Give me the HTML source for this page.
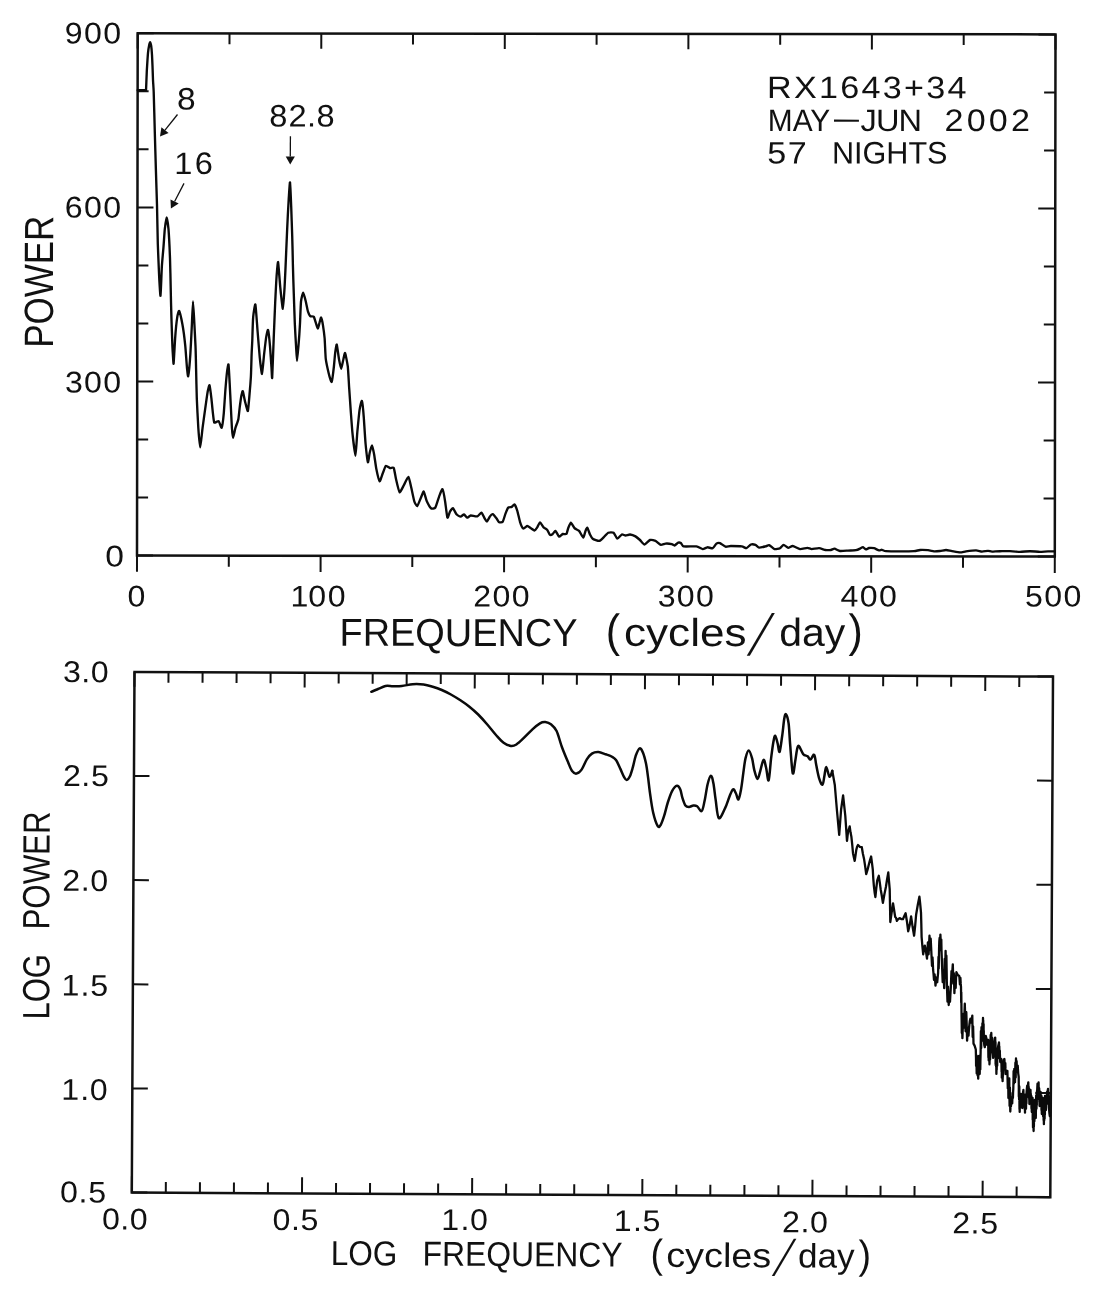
<!DOCTYPE html>
<html><head><meta charset="utf-8"><title>RX1643+34 power spectrum</title>
<style>html,body{margin:0;padding:0;background:#fff}svg{display:block}text{font-family:"Liberation Sans",sans-serif;fill:#111}</style></head><body>
<svg width="1100" height="1294" viewBox="0 0 1100 1294">
<rect width="1100" height="1294" fill="#fff"/>
<g transform="matrix(1 0.00120 -0.00134 1 137.7 33.3)" stroke="#111" fill="none" stroke-linecap="butt">
<rect x="0" y="0" width="917.8" height="522.2" stroke-width="2.5"/>
<path d="M0.0 0v15.3M0.0 522.2v16.3M91.8 0v10.8M91.8 522.2v11.2M183.6 0v15.3M183.6 522.2v16.3M275.3 0v10.8M275.3 522.2v11.2M367.1 0v15.3M367.1 522.2v16.3M458.9 0v10.8M458.9 522.2v11.2M550.7 0v15.3M550.7 522.2v16.3M642.5 0v10.8M642.5 522.2v11.2M734.2 0v15.3M734.2 522.2v16.3M826.0 0v10.8M826.0 522.2v11.2M917.8 0v15.3M917.8 522.2v16.3M0 522.2h16M917.8 522.2h-17M0 464.2h11M917.8 464.2h-11.3M0 406.2h11M917.8 406.2h-11.3M0 348.1h16M917.8 348.1h-17M0 290.1h11M917.8 290.1h-11.3M0 232.1h11M917.8 232.1h-11.3M0 174.1h16M917.8 174.1h-17M0 116.0h11M917.8 116.0h-11.3M0 58.0h11M917.8 58.0h-11.3M0 0.0h16M917.8 0.0h-17" stroke-width="2.0"/>
</g>
<g transform="matrix(1 0.00512 -0.00519 1 134.5 671.9)" stroke="#111" fill="none">
<rect x="0" y="0" width="918.5" height="520.6" stroke-width="2.5"/>
<path d="M0.0 0v14.8M0.0 520.6v-16.2M34.0 0v10.6M34.0 520.6v-10.6M68.1 0v10.6M68.1 520.6v-10.6M102.1 0v10.6M102.1 520.6v-10.6M136.1 0v10.6M136.1 520.6v-10.6M170.2 0v14.8M170.2 520.6v-16.2M204.2 0v10.6M204.2 520.6v-10.6M238.2 0v10.6M238.2 520.6v-10.6M272.2 0v10.6M272.2 520.6v-10.6M306.3 0v10.6M306.3 520.6v-10.6M340.3 0v14.8M340.3 520.6v-16.2M374.3 0v10.6M374.3 520.6v-10.6M408.4 0v10.6M408.4 520.6v-10.6M442.4 0v10.6M442.4 520.6v-10.6M476.4 0v10.6M476.4 520.6v-10.6M510.5 0v14.8M510.5 520.6v-16.2M544.5 0v10.6M544.5 520.6v-10.6M578.5 0v10.6M578.5 520.6v-10.6M612.6 0v10.6M612.6 520.6v-10.6M646.6 0v10.6M646.6 520.6v-10.6M680.6 0v14.8M680.6 520.6v-16.2M714.7 0v10.6M714.7 520.6v-10.6M748.7 0v10.6M748.7 520.6v-10.6M782.7 0v10.6M782.7 520.6v-10.6M816.7 0v10.6M816.7 520.6v-10.6M850.8 0v14.8M850.8 520.6v-16.2M884.8 0v10.6M884.8 520.6v-10.6M0 0.0h15.5M918.5 0.0h-15.5M0 104.1h15.5M918.5 104.1h-15.5M0 208.2h15.5M918.5 208.2h-15.5M0 312.4h15.5M918.5 312.4h-15.5M0 416.5h15.5M918.5 416.5h-15.5M0 520.6h15.5M918.5 520.6h-15.5" stroke-width="2.0"/>
</g>
<path d="M137.7 90.2C138.5 90.2 145.1 90.4 145.9 90.2C146.1 90.0 146.0 90.4 146.1 88.5C146.2 86.6 146.7 72.7 146.9 69.4C147.1 66.1 147.8 55.1 148.0 52.9C148.2 50.7 149.0 46.0 149.2 45.0C149.4 44.0 150.0 42.1 150.2 42.2C150.4 42.3 151.0 44.8 151.2 46.0C151.4 47.2 151.9 53.2 152.0 55.0C152.1 56.8 152.4 63.7 152.5 66.0C152.6 68.3 152.9 77.6 153.0 80.0C153.1 82.4 153.5 87.2 153.7 92.0C153.9 96.8 154.6 125.2 154.8 132.3C155.0 139.5 155.7 163.3 155.9 170.0C156.1 176.7 156.8 198.5 157.0 205.3C157.2 212.1 157.6 237.6 157.8 243.8C158.0 250.0 158.8 268.3 159.0 273.1C159.2 277.9 160.2 296.4 160.5 295.7C160.8 295.0 161.6 270.2 161.9 265.8C162.2 261.4 163.1 251.6 163.4 248.2C163.7 244.8 164.5 232.0 164.8 229.2C165.1 226.4 166.3 217.5 166.6 217.5C166.9 217.5 168.2 225.5 168.5 229.2C168.8 232.9 169.8 253.0 170.0 258.4C170.2 263.8 170.6 282.3 170.7 287.7C170.8 293.1 171.2 311.5 171.4 316.9C171.6 322.3 172.2 341.8 172.4 346.1C172.6 350.4 173.4 364.4 173.6 363.7C173.8 363.0 174.8 343.1 175.1 338.8C175.4 334.5 176.9 319.4 177.3 316.9C177.7 314.4 178.7 310.3 179.2 311.0C179.7 311.7 181.8 321.0 182.4 324.2C183.0 327.4 184.9 342.1 185.3 346.1C185.7 350.1 186.7 365.2 187.0 368.0C187.3 370.8 187.9 377.4 188.2 376.1C188.5 374.8 190.1 358.2 190.4 353.4C190.7 348.6 191.7 329.0 191.9 324.2C192.1 319.4 192.8 301.5 193.0 301.5C193.2 301.5 194.2 320.1 194.4 324.2C194.6 328.3 195.3 342.0 195.5 346.1C195.7 350.2 196.0 364.4 196.1 369.2C196.2 374.0 196.6 393.0 196.8 398.4C197.0 403.8 198.0 423.2 198.3 427.7C198.6 432.2 199.8 447.4 200.2 447.4C200.6 447.4 202.1 431.5 202.6 427.7C203.1 423.9 205.1 409.2 205.6 405.8C206.1 402.4 207.4 393.0 207.8 391.1C208.2 389.2 209.2 384.6 209.5 385.3C209.8 386.0 211.1 395.9 211.4 398.4C211.7 400.9 212.6 410.9 212.9 413.1C213.2 415.3 213.8 421.9 214.3 422.6C214.8 423.3 218.0 420.6 218.7 421.1C219.4 421.6 221.1 428.4 221.6 427.7C222.1 427.0 223.5 416.5 223.8 413.1C224.1 409.7 225.0 394.9 225.3 391.1C225.6 387.3 226.7 374.5 227.0 372.1C227.3 369.7 228.3 363.4 228.5 364.5C228.7 365.6 229.5 380.0 229.7 383.8C229.9 387.6 230.6 401.8 230.8 405.8C231.0 409.8 231.7 424.8 231.9 427.7C232.1 430.6 232.7 437.9 233.0 437.9C233.3 437.9 235.0 429.4 235.5 427.7C236.0 426.0 238.0 420.9 238.4 418.9C238.8 416.9 239.6 407.9 239.9 405.8C240.2 403.7 241.1 396.8 241.4 395.5C241.7 394.2 242.5 390.6 242.8 391.1C243.1 391.6 244.5 399.6 245.0 401.4C245.5 403.2 247.5 411.8 247.9 410.9C248.3 410.0 249.5 394.3 249.8 391.1C250.1 387.9 250.7 379.8 250.9 376.5C251.1 373.2 251.5 357.9 251.6 354.6C251.7 351.3 252.2 343.5 252.3 340.0C252.4 336.5 252.9 320.2 253.2 316.9C253.5 313.6 255.0 303.2 255.4 304.5C255.8 305.8 257.2 326.6 257.6 331.5C258.0 336.4 259.4 353.9 259.8 357.8C260.2 361.7 261.6 374.3 262.0 373.9C262.4 373.5 263.8 356.9 264.2 353.4C264.6 349.9 266.0 338.0 266.4 335.9C266.8 333.8 267.8 329.1 268.1 330.0C268.4 330.9 269.7 342.6 270.0 346.1C270.3 349.6 271.3 365.1 271.5 368.0C271.7 370.9 272.0 380.2 272.2 377.5C272.4 374.8 273.4 345.7 273.7 338.8C274.0 331.9 274.9 308.1 275.2 302.3C275.5 296.5 276.3 279.7 276.6 276.0C276.9 272.3 277.8 261.0 278.1 262.1C278.4 263.2 279.9 283.4 280.3 287.7C280.7 292.0 282.5 309.0 282.9 308.9C283.3 308.8 284.3 291.9 284.6 286.9C284.9 281.9 285.9 259.4 286.1 254.0C286.3 248.6 287.0 233.4 287.2 228.4C287.4 223.4 288.4 203.4 288.7 199.2C289.0 195.0 289.8 181.7 290.0 182.4C290.2 183.1 291.0 201.6 291.2 206.5C291.4 211.4 292.0 230.4 292.2 235.8C292.4 241.2 292.8 259.6 292.9 265.0C293.0 270.4 293.6 288.8 293.8 294.2C294.0 299.6 294.6 318.7 294.8 323.4C295.0 328.1 295.8 341.9 296.0 345.3C296.2 348.7 296.8 361.0 297.0 361.0C297.2 361.0 298.2 348.7 298.5 345.3C298.8 341.9 299.8 327.4 300.0 323.4C300.2 319.4 300.7 304.3 301.0 301.5C301.3 298.7 302.8 292.7 303.2 292.7C303.6 292.7 305.4 299.8 305.8 301.5C306.2 303.2 307.6 310.4 308.0 311.7C308.4 313.0 309.7 315.6 310.2 316.1C310.7 316.6 313.3 316.1 313.8 316.8C314.3 317.5 315.6 322.3 316.0 323.4C316.4 324.5 317.6 328.6 317.9 328.5C318.2 328.4 319.4 323.0 319.7 322.0C320.0 321.0 320.8 317.3 321.1 317.6C321.4 317.9 322.6 323.0 322.9 324.9C323.2 326.8 324.3 334.9 324.6 338.0C324.9 341.1 325.4 355.9 325.8 359.2C326.2 362.5 328.3 371.7 328.8 373.8C329.3 375.9 331.2 382.6 331.7 381.9C332.2 381.2 333.6 369.2 333.9 366.5C334.2 363.8 335.0 353.9 335.3 351.9C335.6 349.9 336.5 343.9 336.8 344.6C337.1 345.3 338.6 357.0 339.0 359.2C339.4 361.4 340.8 368.7 341.2 368.7C341.6 368.7 343.0 360.6 343.4 359.2C343.8 357.8 344.7 352.4 345.1 353.1C345.5 353.8 347.4 363.3 347.8 366.5C348.2 369.7 348.9 384.4 349.2 388.4C349.5 392.4 350.4 406.4 350.7 410.4C351.0 414.4 352.0 428.1 352.4 432.3C352.8 436.5 355.1 455.7 355.5 455.7C355.9 455.7 356.9 436.5 357.3 432.3C357.7 428.1 359.1 413.3 359.5 410.4C359.9 407.5 361.5 400.2 361.9 400.9C362.3 401.6 363.5 413.7 363.8 417.7C364.1 421.7 365.2 439.9 365.6 444.0C366.0 448.1 367.5 461.4 367.9 462.2C368.3 463.0 369.3 454.2 369.7 452.7C370.1 451.2 371.5 445.3 371.9 445.4C372.3 445.5 373.7 452.1 374.1 454.2C374.5 456.3 375.8 466.3 376.3 468.8C376.8 471.3 379.0 480.8 379.6 481.2C380.2 481.6 382.2 474.6 382.8 473.2C383.4 471.8 385.1 466.4 385.8 465.9C386.5 465.4 389.4 467.9 390.1 468.1C390.8 468.3 393.3 467.1 393.8 468.1C394.3 469.1 395.5 476.8 396.0 479.0C396.5 481.2 398.9 491.7 399.6 492.2C400.3 492.7 403.2 486.3 404.0 484.9C404.8 483.5 407.7 476.5 408.4 476.8C409.1 477.1 410.8 485.6 411.3 487.8C411.8 490.0 413.7 499.3 414.2 501.0C414.7 502.7 416.6 506.4 417.2 506.1C417.8 505.8 420.2 499.3 420.8 498.0C421.4 496.7 423.2 491.2 423.7 491.5C424.2 491.8 426.0 499.5 426.7 501.0C427.4 502.5 430.2 507.7 431.0 508.3C431.8 508.9 434.7 508.6 435.4 507.5C436.1 506.4 438.4 498.3 439.1 496.6C439.8 494.9 441.9 488.7 442.5 489.2C443.1 489.7 444.8 499.4 445.2 502.0C445.6 504.6 447.0 516.7 447.4 517.6C447.8 518.5 449.5 512.5 450.0 511.6C450.5 510.7 452.3 508.0 452.9 508.2C453.5 508.4 455.8 513.5 456.5 514.3C457.2 515.1 459.9 516.6 460.6 516.6C461.3 516.6 463.4 514.3 464.0 514.4C464.6 514.5 466.5 517.6 467.1 517.7C467.7 517.8 469.8 515.6 470.7 515.5C471.6 515.4 476.3 516.7 477.3 516.4C478.3 516.1 480.8 512.5 481.5 512.7C482.2 512.9 484.0 517.4 484.5 518.2C485.0 519.0 486.4 521.7 486.9 521.5C487.4 521.3 489.5 517.1 490.0 516.4C490.5 515.7 492.1 514.0 492.7 514.2C493.3 514.4 495.8 517.5 496.4 518.2C497.0 518.9 498.5 521.9 499.1 522.2C499.7 522.5 502.1 522.6 502.7 521.8C503.3 521.0 505.0 514.9 505.5 513.6C506.0 512.3 507.6 508.2 508.2 507.6C508.8 507.0 511.2 507.2 511.8 506.9C512.4 506.6 514.0 504.1 514.5 504.5C515.0 504.9 516.8 509.3 517.3 510.9C517.8 512.5 519.5 520.2 520.0 521.8C520.5 523.4 522.6 528.1 523.3 528.5C524.0 528.9 526.6 526.0 527.3 526.0C528.0 526.0 530.2 527.8 530.9 528.2C531.6 528.6 533.9 530.6 534.5 530.5C535.1 530.4 536.8 528.0 537.3 527.3C537.8 526.6 539.4 522.4 540.0 522.4C540.6 522.4 542.9 526.6 543.6 527.3C544.3 528.0 546.7 529.3 547.3 530.0C547.9 530.7 549.5 534.5 550.0 534.9C550.5 535.3 552.2 534.4 552.7 534.0C553.2 533.6 554.9 530.7 555.5 530.9C556.1 531.1 558.4 536.4 559.1 536.7C559.8 537.0 562.0 534.2 562.7 534.0C563.4 533.8 565.9 534.5 566.4 534.0C566.9 533.5 567.8 529.2 568.2 528.2C568.6 527.2 570.3 522.7 570.9 522.7C571.5 522.7 573.7 527.4 574.5 528.2C575.3 529.0 578.3 530.0 579.1 530.9C579.9 531.8 582.7 537.6 583.3 537.6C583.9 537.6 585.1 531.8 585.5 530.9C585.9 530.0 586.9 527.5 587.3 527.8C587.7 528.1 589.5 533.5 590.0 534.5C590.5 535.5 591.9 538.1 592.7 538.7C593.5 539.3 598.1 541.0 599.1 540.9C600.1 540.8 602.8 538.1 603.6 537.3C604.4 536.5 607.3 533.1 608.2 532.7C609.1 532.3 612.8 532.2 613.6 532.7C614.4 533.2 616.5 538.5 617.3 538.7C618.1 538.9 621.0 534.8 621.8 534.5C622.6 534.2 624.7 535.5 625.5 535.5C626.3 535.5 629.1 534.4 630.0 534.5C630.9 534.6 634.6 535.9 635.5 536.4C636.4 536.9 639.2 539.3 640.0 540.0C640.8 540.7 643.6 544.5 644.5 544.5C645.4 544.5 649.0 540.3 650.0 540.0C651.0 539.7 654.5 540.5 655.5 540.9C656.5 541.3 660.0 544.7 660.9 544.9C661.8 545.1 664.5 543.7 665.5 543.6C666.5 543.5 671.0 544.0 671.8 544.2C672.6 544.4 673.9 545.6 674.5 545.5C675.1 545.4 677.6 542.9 678.2 542.7C678.8 542.5 680.4 542.8 680.9 543.1C681.4 543.4 682.2 546.1 683.6 546.4C685.0 546.7 694.6 546.2 696.4 546.4C698.2 546.6 701.7 549.0 702.7 549.1C703.7 549.2 706.4 547.4 707.3 547.3C708.2 547.2 711.9 548.5 712.7 548.2C713.5 547.9 715.7 544.1 716.4 543.6C717.1 543.1 719.2 542.8 720.0 543.1C720.8 543.4 724.5 546.4 725.5 546.7C726.5 547.0 729.4 546.0 730.9 546.0C732.4 546.0 740.4 546.2 741.8 546.4C743.2 546.6 745.6 548.4 746.4 548.2C747.2 548.0 750.1 544.8 750.9 544.5C751.7 544.2 754.7 544.6 755.5 544.9C756.3 545.2 758.2 547.5 759.1 547.6C760.0 547.7 764.6 546.6 765.5 546.4C766.4 546.2 768.3 544.9 769.1 545.1C769.9 545.3 773.5 548.8 774.5 549.1C775.5 549.4 779.2 548.6 780.0 548.2C780.8 547.8 782.8 544.9 783.6 544.9C784.4 544.9 787.4 547.7 788.2 547.8C789.0 547.9 791.6 545.9 792.7 546.0C793.8 546.1 798.7 548.9 800.0 549.1C801.3 549.3 806.2 547.8 807.3 547.8C808.4 547.8 810.7 549.1 811.8 549.1C812.9 549.1 817.8 548.1 819.1 548.2C820.4 548.3 824.4 549.8 825.5 550.0C826.6 550.2 830.1 550.1 830.9 550.0C831.7 549.9 833.7 548.6 834.5 548.7C835.3 548.8 838.8 550.8 840.0 551.0C841.2 551.2 846.5 550.7 848.0 550.6C849.5 550.5 854.9 550.4 856.0 550.2C857.1 550.0 859.4 548.9 860.0 548.6C860.6 548.3 862.5 547.1 863.0 547.2C863.5 547.3 865.5 549.3 866.0 549.4C866.5 549.5 868.3 548.1 869.0 548.0C869.7 547.9 873.1 548.0 874.0 548.2C874.9 548.4 878.3 550.3 879.0 550.4C879.7 550.5 881.4 549.7 882.0 549.8C882.6 549.9 884.4 551.1 886.0 551.2C887.6 551.3 897.4 551.4 900.0 551.4C902.6 551.4 912.2 551.3 914.0 551.2C915.8 551.1 918.7 550.1 920.0 550.0C921.3 549.9 926.7 550.1 928.0 550.2C929.3 550.3 932.9 551.2 934.0 551.3C935.1 551.4 938.9 551.1 940.0 551.0C941.1 550.9 944.9 550.0 946.0 550.0C947.1 550.0 950.7 551.0 952.0 551.2C953.3 551.4 958.7 552.4 960.0 552.4C961.3 552.4 964.5 551.6 966.0 551.4C967.5 551.2 974.5 550.4 976.0 550.4C977.5 550.4 980.9 551.6 982.0 551.6C983.1 551.6 987.1 550.8 988.0 550.8C988.9 550.8 990.9 551.6 992.0 551.6C993.1 551.6 998.4 551.2 1000.0 551.2C1001.6 551.2 1008.2 551.1 1010.0 551.2C1011.8 551.3 1018.2 551.8 1020.0 551.8C1021.8 551.8 1028.2 551.2 1030.0 551.2C1031.8 551.2 1038.3 551.8 1040.0 551.8C1041.7 551.8 1046.7 551.4 1048.0 551.4C1049.3 551.4 1054.0 551.4 1054.6 551.4" fill="none" stroke="#0a0a0a" stroke-linejoin="round" stroke-linecap="round" stroke-width="2.35"/>
<path d="M371.3 691.8C372.4 691.3 375.6 690.0 378.0 689.0C380.4 688.0 383.0 686.5 385.5 686.0C388.0 685.5 390.3 686.2 393.0 686.2C395.7 686.2 398.5 686.3 401.8 686.0C405.1 685.7 409.1 684.5 412.7 684.2C416.3 684.0 420.3 684.1 423.6 684.5C426.9 684.9 429.7 685.8 432.7 686.7C435.7 687.6 438.8 688.7 441.8 690.0C444.8 691.3 447.9 692.8 450.9 694.5C453.9 696.2 457.0 698.0 460.0 700.0C463.0 702.0 466.1 704.0 469.1 706.4C472.1 708.8 475.2 711.5 478.2 714.5C481.2 717.5 484.3 721.0 487.3 724.5C490.3 728.0 493.7 732.5 496.4 735.5C499.1 738.5 501.2 741.0 503.6 742.7C506.0 744.5 508.8 745.7 510.9 746.0C513.0 746.3 514.3 745.8 516.4 744.5C518.5 743.2 520.9 740.8 523.6 738.2C526.3 735.6 530.0 731.6 532.7 729.1C535.4 726.6 537.9 724.5 540.0 723.3C542.1 722.1 543.4 721.9 545.3 722.1C547.2 722.3 549.4 723.1 551.3 724.6C553.2 726.1 554.8 727.3 556.6 731.0C558.4 734.7 560.0 741.9 561.9 747.0C563.8 752.1 566.1 757.6 567.8 761.6C569.5 765.6 570.6 769.1 572.1 771.1C573.6 773.1 574.9 773.9 576.5 773.6C578.1 773.4 579.9 772.0 581.6 769.6C583.3 767.2 585.1 762.1 586.8 759.4C588.5 756.7 590.0 754.8 591.9 753.6C593.8 752.4 596.1 752.0 598.4 752.1C600.7 752.2 603.6 753.6 605.8 754.3C608.0 755.0 609.9 755.5 611.6 756.5C613.3 757.5 614.5 758.0 616.0 760.1C617.5 762.2 619.1 766.1 620.4 768.9C621.7 771.7 623.0 775.1 624.0 776.9C625.0 778.7 625.6 780.0 626.6 779.9C627.6 779.8 628.9 778.3 629.9 776.2C630.9 774.1 631.8 770.8 632.8 767.4C633.8 764.0 634.6 759.0 635.7 755.8C636.9 752.6 638.5 748.9 639.7 748.4C640.9 747.9 642.0 750.3 643.0 752.8C644.0 755.2 645.0 759.0 645.9 763.1C646.8 767.2 647.4 772.4 648.1 777.7C648.8 783.1 649.4 789.4 650.3 795.2C651.1 801.0 652.0 807.6 653.2 812.7C654.4 817.8 656.4 823.8 657.6 825.9C658.8 828.0 659.4 826.9 660.5 825.2C661.6 823.5 663.0 819.5 664.2 815.7C665.4 811.9 666.5 806.6 667.8 802.5C669.1 798.4 670.7 793.6 672.2 790.8C673.7 788.0 675.5 785.9 676.9 785.7C678.2 785.5 679.4 787.3 680.3 789.4C681.2 791.5 681.6 795.4 682.5 798.1C683.4 800.8 684.3 803.9 685.4 805.4C686.5 806.9 687.7 806.9 689.0 806.9C690.3 806.9 692.0 805.7 693.4 805.6C694.8 805.5 695.7 805.4 697.1 806.3C698.5 807.2 700.5 811.9 701.7 811.0C703.0 810.1 703.6 805.2 704.6 800.8C705.6 796.4 706.5 788.9 707.5 784.7C708.5 780.5 709.9 775.9 710.9 775.7C711.9 775.5 712.6 779.3 713.4 783.3C714.2 787.2 714.7 793.6 715.6 799.4C716.5 805.2 717.2 816.6 718.8 818.1C720.4 819.6 723.3 811.7 725.1 808.1C726.9 804.5 728.2 799.5 729.5 796.4C730.8 793.3 732.0 789.9 733.1 789.4C734.2 788.9 735.1 791.8 736.0 793.5C736.9 795.2 737.6 800.1 738.5 799.4C739.4 798.7 740.3 793.5 741.1 789.1C741.9 784.7 742.6 778.2 743.3 773.1C744.0 768.0 744.6 762.2 745.5 758.4C746.4 754.6 747.6 750.4 748.7 750.4C749.8 750.4 751.2 755.1 752.1 758.4C753.0 761.7 753.4 766.7 754.3 770.1C755.2 773.5 756.5 778.6 757.5 778.9C758.5 779.1 759.1 774.8 760.1 771.6C761.1 768.4 762.5 760.6 763.5 759.9C764.5 759.2 765.1 763.8 766.0 767.2C766.9 770.6 767.8 781.9 768.6 780.4C769.5 778.9 770.3 764.7 771.1 758.4C771.9 752.1 772.6 746.2 773.3 742.4C774.0 738.6 774.5 735.6 775.2 735.8C775.9 736.0 777.0 741.1 777.7 743.8C778.4 746.5 778.9 753.1 779.6 751.9C780.3 750.7 781.3 742.0 782.1 736.5C782.9 731.0 783.6 722.7 784.2 719.0C784.9 715.3 785.3 713.6 786.0 714.3C786.7 715.0 787.9 718.5 788.6 723.4C789.3 728.3 789.4 735.5 790.1 743.8C790.8 752.1 791.9 770.2 792.7 773.1C793.6 776.0 794.5 765.3 795.2 761.4C795.9 757.5 796.4 752.3 797.0 749.7C797.6 747.1 797.9 745.3 798.9 746.0C799.9 746.7 801.8 752.4 803.2 754.1C804.7 755.8 806.4 755.4 807.6 756.3C808.8 757.2 809.4 759.9 810.5 759.6C811.6 759.4 813.2 753.8 814.2 754.8C815.2 755.8 815.5 761.8 816.4 765.8C817.2 769.8 818.3 775.8 819.3 778.9C820.3 782.0 821.6 785.2 822.5 784.7C823.4 784.2 823.8 779.0 824.4 776.0C825.0 773.0 825.4 766.8 826.2 766.9C827.1 767.0 828.5 776.0 829.5 776.7C830.5 777.4 831.8 771.9 832.3 770.9" fill="none" stroke="#0a0a0a" stroke-linejoin="round" stroke-linecap="round" stroke-width="2.5"/>
<path d="M832.3 770.9 L834.8 785.0 L837.0 811.0 L839.2 834.9 L841.1 809.5 L843.1 795.3 L845.3 815.8 L846.1 827.6 L847.0 840.8 L847.5 836.3 L848.1 831.3 L848.9 829.3 L849.7 826.4 L850.5 832.3 L851.4 836.8 L852.2 844.4 L853.0 853.2 L853.9 857.4 L854.7 860.9 L855.5 855.7 L856.3 849.9 L857.1 846.8 L858.0 845.0 L859.9 846.8 L861.8 847.2 L862.9 853.8 L864.0 858.7 L865.1 865.9 L866.2 874.1 L867.5 870.0 L868.9 864.2 L870.0 860.1 L871.1 856.5 L872.0 863.1 L872.8 869.7 L873.3 878.9 L873.9 886.1 L874.6 892.2 L875.4 897.0 L876.3 888.2 L877.2 880.7 L878.0 878.1 L878.8 875.8 L879.8 882.7 L880.7 889.5 L881.8 895.8 L882.9 902.8 L884.4 894.2 L885.9 887.0 L887.1 879.3 L888.3 872.5 L889.0 881.2 L889.7 889.0 L890.0 904.4 L890.3 922.0 L891.6 912.8 L893.0 903.3 L894.1 910.0 L895.2 917.0 L896.0 917.8 L896.9 920.9 L898.2 919.1 L899.6 918.1 L901.2 919.0 L902.9 919.2 L904.2 916.2 L905.6 913.2 L906.9 921.2 L908.2 931.3 L909.7 925.1 L911.1 916.5 L912.6 926.8 L914.1 935.7 L915.1 926.5 L916.1 914.8 L917.8 904.7 L919.4 896.7 L920.2 904.0 L921.0 912.6 L921.3 923.4 L921.6 936.8 L922.4 946.3 L923.2 954.3 L924.0 949.3 L924.8 945.6 L925.9 951.1 L927.0 958.7 L927.5 950.3 L927.9 942.4 L928.2 949.5 L928.6 954.3 L929.0 945.9 L929.5 935.7 L929.8 942.0 L930.2 949.7 L930.5 943.2 L930.7 938.7 L931.1 947.1 L931.4 953.2 L931.7 959.8 L932.0 965.9 L932.2 962.2 L932.5 957.3 L932.8 962.3 L933.1 969.7 L933.5 973.5 L934.0 979.9 L934.3 977.6 L934.6 974.3 L935.1 979.8 L935.5 985.7 L936.0 980.4 L936.4 977.7 L936.8 981.3 L937.2 982.3 L937.6 978.1 L938.1 973.0 L938.3 965.8 L938.5 956.8 L938.6 961.5 L938.7 968.6 L938.9 959.2 L939.1 947.7 L939.3 941.6 L939.6 938.0 L939.8 941.5 L939.9 942.8 L940.2 938.6 L940.4 934.6 L940.7 941.9 L940.9 950.1 L941.1 945.0 L941.3 939.6 L941.5 950.2 L941.8 958.3 L942.2 969.5 L942.7 982.1 L943.0 975.1 L943.3 970.4 L943.8 979.4 L944.2 988.2 L944.5 972.8 L944.7 959.0 L944.9 967.6 L945.1 978.6 L945.3 963.7 L945.6 950.8 L945.8 963.0 L946.0 978.0 L946.2 965.9 L946.4 955.7 L946.6 967.9 L946.8 981.2 L947.1 990.8 L947.5 1001.7 L947.8 995.0 L948.0 986.6 L948.4 995.2 L948.7 1005.0 L949.1 999.3 L949.5 993.5 L949.8 996.7 L950.0 1001.8 L950.4 994.2 L950.8 987.6 L951.2 977.9 L951.5 971.1 L951.8 974.3 L952.1 979.0 L952.4 970.1 L952.8 964.3 L953.1 974.7 L953.4 983.7 L953.6 978.6 L953.8 973.2 L954.1 982.2 L954.4 993.2 L954.8 984.7 L955.1 976.4 L955.4 983.6 L955.7 987.9 L956.0 978.8 L956.4 972.2 L957.8 975.1 L959.3 976.0 L959.6 980.0 L959.9 984.4 L960.1 981.1 L960.4 977.8 L960.7 983.4 L961.0 986.8 L961.1 994.3 L961.2 1002.5 L961.2 997.2 L961.3 991.9 L961.4 1002.2 L961.5 1011.4 L961.7 1023.9 L961.8 1033.1 L962.0 1025.3 L962.1 1018.5 L962.2 1029.5 L962.4 1038.2 L962.8 1026.7 L963.3 1013.8 L963.6 1021.1 L963.9 1027.6 L964.4 1015.3 L964.8 1003.7 L965.2 1017.0 L965.6 1031.3 L966.0 1020.2 L966.3 1012.2 L966.7 1025.2 L967.1 1040.6 L967.5 1032.9 L967.9 1028.0 L968.2 1032.6 L968.5 1035.6 L968.9 1029.8 L969.3 1025.7 L969.8 1021.1 L970.4 1018.7 L970.8 1019.3 L971.2 1022.6 L971.8 1020.3 L972.3 1015.6 L972.5 1027.6 L972.7 1037.1 L972.9 1032.3 L973.1 1026.4 L973.3 1034.2 L973.5 1043.6 L974.6 1045.6 L975.8 1049.5 L976.0 1057.1 L976.1 1066.1 L976.2 1060.6 L976.4 1055.4 L976.5 1063.3 L976.7 1073.6 L976.8 1067.1 L976.9 1061.0 L977.0 1064.8 L977.1 1070.4 L977.2 1064.9 L977.3 1056.2 L977.5 1067.5 L977.6 1075.5 L977.8 1070.7 L977.9 1065.6 L978.0 1071.2 L978.2 1078.7 L978.4 1071.8 L978.5 1061.5 L978.6 1066.2 L978.8 1072.3 L978.9 1063.5 L979.1 1055.8 L979.2 1059.9 L979.3 1067.6 L979.4 1062.9 L979.5 1059.0 L979.6 1066.5 L979.7 1074.0 L979.9 1066.6 L980.0 1059.0 L980.2 1063.2 L980.3 1069.4 L980.4 1061.3 L980.6 1053.1 L980.8 1040.3 L980.9 1031.1 L981.0 1038.7 L981.2 1048.1 L981.3 1036.2 L981.5 1027.2 L981.6 1031.1 L981.7 1035.6 L981.8 1032.5 L981.9 1032.7 L982.0 1035.0 L982.1 1040.7 L982.3 1031.3 L982.4 1023.3 L982.6 1028.8 L982.7 1036.4 L982.8 1027.5 L983.0 1018.0 L983.1 1023.7 L983.1 1029.3 L983.2 1025.7 L983.2 1020.3 L983.3 1027.0 L983.3 1032.6 L983.5 1029.2 L983.6 1024.2 L983.6 1031.6 L983.7 1036.3 L983.7 1033.1 L983.8 1030.7 L983.8 1034.7 L983.9 1040.0 L984.3 1045.3 L984.8 1047.1 L985.0 1042.3 L985.2 1040.1 L985.3 1042.6 L985.4 1043.4 L985.6 1040.2 L985.8 1036.0 L986.5 1038.7 L987.1 1044.8 L987.7 1043.6 L988.2 1040.0 L988.3 1050.2 L988.4 1057.5 L988.4 1052.7 L988.5 1046.9 L988.6 1054.5 L988.7 1060.4 L988.7 1057.0 L988.8 1051.4 L988.9 1052.9 L988.9 1057.1 L989.0 1052.4 L989.0 1047.4 L989.1 1053.1 L989.2 1058.7 L989.3 1057.4 L989.3 1053.5 L989.4 1060.1 L989.5 1064.4 L989.6 1058.8 L989.6 1050.8 L989.7 1054.7 L989.7 1058.0 L989.8 1053.9 L989.8 1046.8 L989.9 1052.0 L989.9 1055.9 L990.0 1053.4 L990.0 1049.5 L990.0 1053.5 L990.1 1059.6 L990.1 1051.3 L990.2 1046.4 L990.2 1048.4 L990.3 1053.1 L990.3 1048.0 L990.4 1044.0 L990.6 1038.0 L990.7 1035.0 L990.8 1039.0 L991.0 1040.6 L991.1 1036.9 L991.3 1032.9 L991.4 1039.1 L991.4 1044.4 L991.5 1041.6 L991.5 1037.8 L991.6 1042.7 L991.6 1046.3 L991.8 1041.9 L991.9 1037.6 L991.9 1041.0 L992.0 1048.1 L992.0 1046.1 L992.1 1041.9 L992.1 1046.9 L992.2 1050.0 L992.7 1054.0 L993.1 1057.9 L993.2 1053.4 L993.2 1048.6 L993.3 1051.9 L993.3 1054.0 L993.4 1047.5 L993.5 1044.3 L993.6 1048.8 L993.7 1051.5 L993.9 1045.8 L994.1 1042.0 L994.7 1038.2 L995.2 1037.6 L995.3 1046.5 L995.4 1057.3 L995.4 1050.5 L995.5 1041.9 L995.6 1052.3 L995.6 1064.9 L995.7 1061.0 L995.8 1055.3 L995.8 1060.2 L995.8 1061.5 L995.9 1055.5 L996.0 1049.6 L996.0 1057.5 L996.1 1066.4 L996.2 1062.0 L996.2 1057.8 L996.3 1066.5 L996.4 1073.9 L996.5 1068.2 L996.6 1060.4 L996.6 1065.5 L996.7 1069.8 L996.8 1064.8 L996.8 1058.7 L997.0 1060.6 L997.2 1065.8 L997.2 1057.5 L997.3 1051.9 L997.4 1054.6 L997.4 1059.2 L997.5 1055.5 L997.6 1050.0 L998.3 1045.4 L999.0 1042.4 L999.1 1049.6 L999.2 1056.3 L999.2 1049.4 L999.3 1046.3 L999.4 1050.5 L999.4 1058.1 L999.6 1053.5 L999.8 1050.6 L1000.0 1057.0 L1000.2 1062.0 L1000.8 1061.2 L1001.4 1059.0 L1001.5 1066.1 L1001.6 1071.8 L1001.6 1066.6 L1001.7 1063.0 L1001.8 1070.4 L1001.8 1077.8 L1001.9 1073.0 L1002.0 1068.5 L1002.0 1071.6 L1002.0 1075.0 L1002.1 1068.0 L1002.2 1064.0 L1002.2 1072.3 L1002.3 1077.6 L1002.4 1073.0 L1002.4 1070.7 L1002.5 1077.8 L1002.6 1081.1 L1002.7 1076.9 L1002.7 1069.2 L1002.8 1071.3 L1002.8 1077.2 L1002.9 1072.0 L1002.9 1067.2 L1003.0 1072.2 L1003.2 1074.8 L1003.2 1071.5 L1003.3 1064.5 L1003.3 1067.1 L1003.4 1070.1 L1003.4 1065.1 L1003.5 1062.0 L1004.0 1059.4 L1004.4 1059.0 L1004.7 1065.5 L1004.9 1068.4 L1005.1 1064.6 L1005.3 1063.1 L1005.5 1068.9 L1005.8 1074.0 L1006.6 1071.1 L1007.4 1071.0 L1007.6 1079.8 L1007.8 1088.4 L1007.9 1085.9 L1008.1 1079.9 L1008.3 1087.5 L1008.4 1098.0 L1008.6 1090.7 L1008.7 1080.8 L1008.8 1085.9 L1009.0 1090.9 L1009.1 1086.2 L1009.3 1078.4 L1009.4 1092.9 L1009.6 1105.9 L1009.8 1095.7 L1009.9 1087.6 L1010.1 1101.1 L1010.3 1111.5 L1010.5 1106.6 L1010.7 1101.8 L1010.8 1102.1 L1011.0 1106.3 L1011.2 1099.7 L1011.4 1097.1 L1011.8 1100.2 L1012.2 1103.4 L1012.4 1098.0 L1012.6 1093.0 L1012.8 1094.7 L1012.9 1098.0 L1013.1 1092.0 L1013.3 1088.8 L1013.5 1079.3 L1013.6 1071.1 L1013.8 1076.6 L1013.9 1083.7 L1014.1 1077.7 L1014.3 1068.9 L1014.4 1071.8 L1014.5 1078.7 L1014.6 1077.5 L1014.8 1074.3 L1014.9 1079.7 L1015.0 1082.2 L1015.2 1070.9 L1015.4 1062.7 L1015.5 1071.9 L1015.7 1077.6 L1015.8 1068.9 L1016.0 1058.5 L1016.2 1064.5 L1016.3 1067.3 L1016.5 1063.3 L1016.6 1061.1 L1016.8 1066.0 L1017.0 1071.9 L1017.4 1068.3 L1017.7 1065.6 L1018.2 1073.3 L1018.7 1076.9 L1018.8 1087.1 L1018.8 1096.5 L1018.9 1090.3 L1018.9 1085.2 L1019.0 1092.0 L1019.1 1099.4 L1019.1 1094.2 L1019.2 1090.8 L1019.2 1090.8 L1019.2 1094.5 L1019.3 1088.8 L1019.3 1086.4 L1019.4 1099.2 L1019.5 1109.2 L1019.5 1101.1 L1019.6 1094.7 L1019.6 1105.1 L1019.7 1111.9 L1019.8 1105.9 L1019.9 1102.0 L1019.9 1103.9 L1020.0 1107.8 L1020.1 1103.0 L1020.2 1098.0 L1020.4 1100.2 L1020.5 1104.9 L1020.8 1098.9 L1021.0 1094.0 L1021.2 1101.9 L1021.4 1105.9 L1021.6 1104.2 L1021.8 1099.4 L1022.0 1105.0 L1022.2 1108.0 L1022.3 1104.4 L1022.4 1099.8 L1022.4 1104.6 L1022.5 1106.1 L1022.6 1102.6 L1022.6 1095.4 L1022.8 1099.6 L1023.0 1103.3 L1023.0 1098.3 L1023.1 1091.4 L1023.2 1093.3 L1023.2 1099.0 L1023.3 1095.5 L1023.4 1090.0 L1023.5 1096.1 L1023.6 1102.6 L1023.7 1100.6 L1023.8 1096.6 L1023.9 1102.1 L1024.0 1106.4 L1024.2 1101.7 L1024.4 1098.8 L1024.5 1102.1 L1024.6 1109.1 L1024.7 1108.4 L1024.8 1104.2 L1024.9 1106.9 L1025.0 1112.7 L1025.1 1104.8 L1025.2 1097.0 L1025.3 1102.3 L1025.4 1108.9 L1025.5 1100.7 L1025.6 1094.3 L1025.7 1100.3 L1025.7 1104.3 L1025.8 1103.0 L1025.9 1097.6 L1025.9 1102.2 L1026.0 1108.8 L1026.1 1103.7 L1026.2 1097.2 L1026.3 1099.6 L1026.4 1103.6 L1026.5 1098.0 L1026.6 1092.0 L1026.9 1088.3 L1027.2 1085.6 L1027.4 1086.3 L1027.7 1090.0 L1028.0 1084.7 L1028.3 1082.4 L1028.4 1086.3 L1028.4 1092.7 L1028.5 1091.2 L1028.6 1086.3 L1028.6 1091.7 L1028.7 1097.2 L1028.8 1091.6 L1029.0 1088.5 L1029.1 1095.3 L1029.1 1098.7 L1029.2 1098.8 L1029.3 1094.6 L1029.3 1099.1 L1029.4 1104.0 L1029.6 1097.0 L1029.8 1093.0 L1030.0 1095.6 L1030.1 1100.9 L1030.3 1093.7 L1030.5 1090.0 L1030.6 1094.2 L1030.7 1099.8 L1030.7 1095.0 L1030.8 1093.7 L1030.9 1097.6 L1031.0 1103.7 L1031.2 1098.7 L1031.3 1095.8 L1031.4 1102.4 L1031.5 1108.5 L1031.6 1107.0 L1031.6 1102.2 L1031.7 1108.2 L1031.8 1112.0 L1031.9 1106.6 L1032.1 1101.9 L1032.2 1104.4 L1032.3 1107.8 L1032.5 1103.0 L1032.6 1098.0 L1032.7 1108.3 L1032.7 1119.7 L1032.8 1114.0 L1032.8 1109.7 L1032.9 1116.6 L1033.0 1127.4 L1033.0 1119.5 L1033.1 1113.5 L1033.1 1119.8 L1033.1 1122.0 L1033.2 1113.9 L1033.2 1109.1 L1033.3 1117.6 L1033.4 1126.0 L1033.4 1119.8 L1033.5 1112.5 L1033.5 1123.4 L1033.6 1131.1 L1033.7 1121.0 L1033.8 1113.4 L1033.8 1118.9 L1033.9 1126.4 L1034.0 1115.7 L1034.0 1107.3 L1034.1 1111.2 L1034.2 1116.0 L1034.2 1114.0 L1034.2 1112.4 L1034.3 1118.8 L1034.4 1121.2 L1034.4 1115.7 L1034.5 1107.0 L1034.6 1112.8 L1034.6 1115.3 L1034.7 1105.6 L1034.8 1100.0 L1034.9 1103.9 L1034.9 1112.0 L1035.0 1109.1 L1035.0 1104.4 L1035.1 1111.2 L1035.2 1114.6 L1035.3 1108.6 L1035.4 1103.0 L1035.5 1108.7 L1035.6 1113.7 L1035.6 1108.3 L1035.7 1107.3 L1035.7 1112.2 L1035.8 1118.0 L1035.9 1111.1 L1035.9 1100.4 L1036.0 1106.5 L1036.1 1109.8 L1036.1 1104.1 L1036.2 1095.3 L1036.3 1101.7 L1036.3 1104.0 L1036.3 1100.5 L1036.4 1099.3 L1036.4 1102.3 L1036.5 1108.6 L1036.6 1101.4 L1036.6 1097.2 L1036.7 1101.1 L1036.8 1104.9 L1036.8 1099.2 L1036.9 1092.0 L1037.2 1089.8 L1037.5 1083.7 L1037.8 1087.1 L1038.0 1088.5 L1038.3 1086.1 L1038.6 1082.4 L1038.7 1090.8 L1038.7 1096.8 L1038.8 1091.9 L1038.8 1087.3 L1038.9 1093.7 L1039.0 1099.6 L1039.1 1092.0 L1039.2 1088.5 L1039.3 1096.5 L1039.4 1102.1 L1039.4 1097.2 L1039.5 1094.7 L1039.5 1102.2 L1039.6 1106.0 L1039.8 1102.1 L1040.0 1096.9 L1040.1 1098.3 L1040.2 1101.5 L1040.4 1095.1 L1040.6 1092.0 L1040.7 1097.0 L1040.8 1104.3 L1040.8 1100.6 L1040.9 1095.8 L1041.0 1101.8 L1041.0 1106.0 L1041.2 1099.1 L1041.4 1095.7 L1041.4 1101.0 L1041.5 1110.2 L1041.6 1105.7 L1041.6 1100.9 L1041.7 1107.8 L1041.8 1114.0 L1042.0 1108.1 L1042.2 1103.1 L1042.3 1105.8 L1042.4 1110.9 L1042.5 1106.4 L1042.6 1101.1 L1042.6 1101.6 L1042.7 1106.6 L1042.7 1101.4 L1042.8 1098.0 L1042.9 1104.8 L1042.9 1112.0 L1043.0 1109.8 L1043.1 1103.5 L1043.1 1110.8 L1043.2 1116.7 L1043.3 1113.0 L1043.3 1105.9 L1043.3 1108.3 L1043.4 1110.9 L1043.4 1105.4 L1043.5 1102.3 L1043.6 1110.1 L1043.6 1120.2 L1043.7 1117.5 L1043.8 1110.8 L1043.8 1118.4 L1043.9 1124.2 L1044.0 1115.6 L1044.0 1108.7 L1044.1 1112.4 L1044.2 1120.4 L1044.2 1113.5 L1044.3 1106.7 L1044.4 1112.2 L1044.4 1116.1 L1044.5 1113.5 L1044.5 1111.6 L1044.5 1114.1 L1044.6 1118.8 L1044.7 1109.8 L1044.7 1099.3 L1044.8 1108.9 L1044.9 1114.6 L1044.9 1104.0 L1045.0 1096.0 L1045.2 1098.4 L1045.4 1105.1 L1045.5 1101.5 L1045.6 1099.5 L1045.8 1104.4 L1046.0 1110.0 L1046.2 1105.2 L1046.4 1098.7 L1046.5 1099.5 L1046.6 1103.1 L1046.8 1098.9 L1047.0 1092.0 L1047.5 1091.6 L1048.0 1089.0 L1048.1 1093.9 L1048.1 1098.8 L1048.2 1094.6 L1048.2 1093.1 L1048.3 1100.7 L1048.4 1104.0 L1048.5 1097.5 L1048.6 1092.6 L1048.7 1099.0 L1048.8 1102.5 L1048.8 1098.0 L1048.9 1095.9 L1048.9 1100.7 L1049.0 1108.0 L1049.4 1113.2 L1049.8 1116.0" fill="none" stroke="#0a0a0a" stroke-linejoin="round" stroke-linecap="round" stroke-width="2.3"/>
<path d="M177.5 114.5L165.0 130.2" stroke="#111" stroke-width="1.3" fill="none"/>
<path d="M160.0 136.4L161.4 127.3L168.6 133.0Z" fill="#111"/>
<path d="M184.0 183.4L174.6 201.5" stroke="#111" stroke-width="1.3" fill="none"/>
<path d="M170.9 208.6L170.5 199.4L178.7 203.6Z" fill="#111"/>
<path d="M290.4 136.2L290.3 156.5" stroke="#111" stroke-width="1.3" fill="none"/>
<path d="M290.2 164.5L285.7 156.5L294.9 156.5Z" fill="#111"/>
<text font-size="30" x="-8.3 9.7 27.7" y="0" transform="translate(73.7 43.5) rotate(0.07) scale(1.07 1)">900</text>
<text font-size="30" x="-8.4 9.7 27.7" y="0" transform="translate(73.7 217.6) rotate(0.07) scale(1.07 1)">600</text>
<text font-size="30" x="-8.2 9.7 27.7" y="0" transform="translate(73.7 392.5) rotate(0.07) scale(1.07 1)">300</text>
<text font-size="30" x="-8.3" y="0" transform="translate(114.6 566.5) rotate(0.07) scale(1.12 1)">0</text>
<text font-size="30" x="-8.3" y="0" transform="translate(136.3 606.4) rotate(0.07) scale(1.07 1)">0</text>
<text font-size="30" x="-8.3 9.7 27.7" y="0" transform="translate(482.2 606.4) rotate(0.07) scale(1.07 1)">200</text>
<text font-size="30" x="-8.2 9.7 27.7" y="0" transform="translate(666.5 606.4) rotate(0.07) scale(1.07 1)">300</text>
<text font-size="30" x="-8.2 9.7 27.7" y="0" transform="translate(849.3 606.4) rotate(0.07) scale(1.07 1)">400</text>
<text font-size="30" x="-8.3 9.7 27.7" y="0" transform="translate(1033.9 606.4) rotate(0.07) scale(1.07 1)">500</text>
<text font-size="30" x="-9.0 7.6 25.7" y="0" transform="translate(300.2 606.4) rotate(0.07) scale(1.07 1)">100</text>
<text font-size="39" textLength="238.0" lengthAdjust="spacingAndGlyphs" transform="translate(339.5 645.8) rotate(0.07)">FREQUENCY</text>
<text font-size="39" transform="translate(605.8 646.6) rotate(0.07) scale(1.1 1.18)">(</text>
<text font-size="39" textLength="122.5" lengthAdjust="spacingAndGlyphs" transform="translate(624.0 645.8) rotate(0.07)">cycles</text>
<text font-size="39" transform="translate(747.0 655.3) rotate(0.07) skewX(-21.8) scale(1.0 1.5)">/</text>
<text font-size="39" textLength="66.0" lengthAdjust="spacingAndGlyphs" transform="translate(779.2 645.8) rotate(0.07)">day</text>
<text font-size="39" transform="translate(848.6 646.6) rotate(0.07) scale(1.1 1.18)">)</text>
<text font-size="41" textLength="132.0" lengthAdjust="spacingAndGlyphs" transform="translate(53.0 347.8) rotate(-89.93)">POWER</text>
<text font-size="31" textLength="181.4" lengthAdjust="spacing" transform="translate(767.0 98.0) rotate(0.07) scale(1.1 1.0)">RX1643+34</text>
<text font-size="31" textLength="62.5" lengthAdjust="spacingAndGlyphs" transform="translate(767.8 130.9) rotate(0.07)">MAY</text>
<text font-size="31" textLength="25.0" lengthAdjust="spacingAndGlyphs" transform="translate(834.0 128.6) rotate(0.07)">–</text>
<text font-size="31" textLength="58.6" lengthAdjust="spacing" transform="translate(860.5 130.9) rotate(0.07) scale(1.05 1.0)">JUN</text>
<text font-size="31" textLength="77.7" lengthAdjust="spacing" transform="translate(944.5 130.9) rotate(0.07) scale(1.1 1.0)">2002</text>
<text font-size="31" textLength="35.9" lengthAdjust="spacing" transform="translate(767.2 163.5) rotate(0.07) scale(1.1 1.0)">57</text>
<text font-size="31" textLength="115.5" lengthAdjust="spacingAndGlyphs" transform="translate(832.0 163.5) rotate(0.07)">NIGHTS</text>
<text font-size="31" x="-8.6" y="0" transform="translate(186.3 109.6) rotate(0.07) scale(1.08 1)">8</text>
<text font-size="31" x="-9.3 10.3" y="0" transform="translate(184.0 174.0) rotate(0.07) scale(1.05 1)">16</text>
<text font-size="31" x="-8.6 9.8 27.4 36.4" y="0" transform="translate(278.2 126.4) rotate(0.07) scale(1.05 1)">82.8</text>
<text font-size="30" x="-8.2 8.9 17.8" y="0" transform="translate(71.8 682.1) rotate(0.29) scale(1.07 1)">3.0</text>
<text font-size="30" x="-8.3 8.9 17.9" y="0" transform="translate(71.8 786.0) rotate(0.29) scale(1.07 1)">2.5</text>
<text font-size="30" x="-8.3 8.9 17.8" y="0" transform="translate(71.2 890.8) rotate(0.29) scale(1.07 1)">2.0</text>
<text font-size="30" x="-9.0 8.9 17.9" y="0" transform="translate(71.0 995.6) rotate(0.29) scale(1.07 1)">1.5</text>
<text font-size="30" x="-9.0 8.9 17.8" y="0" transform="translate(70.8 1099.9) rotate(0.29) scale(1.07 1)">1.0</text>
<text font-size="30" x="-8.3 8.9 17.9" y="0" transform="translate(69.0 1202.4) rotate(0.29) scale(1.07 1)">0.5</text>
<text font-size="30" x="-8.3 8.9 17.8" y="0" transform="translate(110.8 1229.4) rotate(0.29) scale(1.07 1)">0.0</text>
<text font-size="30" x="-8.3 8.9 17.9" y="0" transform="translate(281.4 1230.0) rotate(0.29) scale(1.07 1)">0.5</text>
<text font-size="30" x="-9.0 8.9 17.8" y="0" transform="translate(450.9 1230.0) rotate(0.29) scale(1.07 1)">1.0</text>
<text font-size="30" x="-9.0 8.9 17.9" y="0" transform="translate(623.4 1231.0) rotate(0.29) scale(1.07 1)">1.5</text>
<text font-size="30" x="-8.3 8.9 17.8" y="0" transform="translate(791.0 1232.3) rotate(0.29) scale(1.07 1)">2.0</text>
<text font-size="30" x="-8.3 8.9 17.9" y="0" transform="translate(961.1 1233.4) rotate(0.29) scale(1.07 1)">2.5</text>
<text font-size="34.5" textLength="66.5" lengthAdjust="spacingAndGlyphs" transform="translate(330.8 1265.0) rotate(0.29)">LOG</text>
<text font-size="34.5" textLength="200.0" lengthAdjust="spacingAndGlyphs" transform="translate(422.5 1265.6) rotate(0.29)">FREQUENCY</text>
<text font-size="34" transform="translate(650.6 1267.4) rotate(0.29) scale(1.1 1.18)">(</text>
<text font-size="34" textLength="105.0" lengthAdjust="spacingAndGlyphs" transform="translate(666.2 1266.8) rotate(0.29)">cycles</text>
<text font-size="34" transform="translate(772.0 1275.6) rotate(0.29) skewX(-21.8) scale(1.0 1.5)">/</text>
<text font-size="34" textLength="56.5" lengthAdjust="spacingAndGlyphs" transform="translate(798.0 1267.5) rotate(0.29)">day</text>
<text font-size="34" transform="translate(858.6 1268.5) rotate(0.29) scale(1.1 1.18)">)</text>
<text font-size="38" textLength="65.5" lengthAdjust="spacingAndGlyphs" transform="translate(49.2 1019.5) rotate(-89.71)">LOG</text>
<text font-size="38" textLength="118.0" lengthAdjust="spacingAndGlyphs" transform="translate(49.2 929.5) rotate(-89.71)">POWER</text>
</svg></body></html>
